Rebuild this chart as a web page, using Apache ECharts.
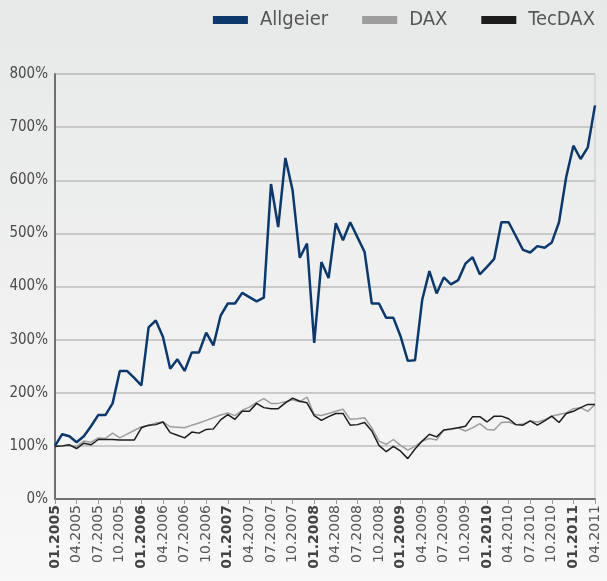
<!DOCTYPE html>
<html>
<head>
<meta charset="utf-8">
<script src="https://cdn.jsdelivr.net/npm/echarts@6/dist/echarts.min.js"></script>
<style>
	html, body { margin: 0; padding: 0; }
	#chart { width: 607px; height: 581px; }
</style>
</head>
<body>
<div id="chart"></div>
<script>
	// monthly values, 01.2005 .. 04.2011 (indexed, 01.2005 = 100%)
	var years = [2005, 2006, 2007, 2008, 2009, 2010, 2011];
	var allgeier = [
		100, 122, 118, 107, 118, 137, 158, 158, 180, 241, 241, 228,
		214, 323, 336, 305, 245, 263, 241, 276, 276, 313, 289, 345,
		368, 368, 388, 380, 372, 379, 593, 512, 642, 581, 454, 481,
		294, 446, 416, 519, 487, 521, 493, 465, 368, 368, 341, 341,
		306, 260, 261, 375, 429, 387, 417, 404, 412, 443, 455, 423,
		437, 452, 521, 521, 495, 469, 464, 476, 473, 483, 521, 606,
		665, 640, 662, 741
	];
	var dax = [
		100, 100, 101, 99, 109, 107, 115, 114, 124, 115, 122, 129,
		136, 138, 143, 145, 136, 135, 134, 139, 143, 148, 153, 158,
		162, 157, 167, 173, 182, 189, 180, 180, 183, 187, 183, 192,
		159, 157, 161, 165, 169, 150, 151, 153, 134, 109, 103, 112,
		101, 92, 99, 109, 114, 111, 130, 131, 134, 128, 134, 142,
		131, 130, 144, 145, 140, 141, 147, 145, 149, 156, 159, 162,
		170, 172, 165, 178
	];
	var tecdax = [
		99, 100, 102, 95, 105, 102, 112, 112, 112, 111, 111, 111,
		134, 139, 140, 145, 125, 120, 115, 126, 124, 131, 132, 149,
		159, 150, 165, 165, 180, 172, 170, 170, 181, 190, 184, 181,
		157, 148, 155, 161, 161, 139, 140, 144, 128, 101, 89, 99,
		90, 76, 94, 109, 122, 117, 130, 132, 134, 137, 155, 155,
		145, 156, 156, 151, 140, 139, 147, 139, 147, 156, 144, 161,
		165, 172, 178, 178
	];

	var months = [];
	for (var y = 0; y < years.length; y++) {
		for (var m = 1; m <= 12; m++) {
			if (months.length < allgeier.length) {
				months.push((m < 10 ? '0' + m : '' + m) + '.' + years[y]);
			}
		}
	}

	var chart = echarts.init(document.getElementById('chart'));
	var option = {
		backgroundColor: {
			type: 'linear', x: 0, y: 0, x2: 0, y2: 1,
			colorStops: [
				{ offset: 0, color: '#e7e8e8' },
				{ offset: 1, color: '#f8f8f8' }
			]
		},
		animation: false,
		textStyle: { fontFamily: 'DejaVu Sans' },
		legend: {
			top: 5,
			right: 7,
			itemWidth: 35,
			itemHeight: 8,
			itemGap: 34,
			icon: 'rect',
			textStyle: {
				color: '#555',
				fontSize: 20,
				fontFamily: 'DejaVu Sans Condensed',
				padding: [0, 0, 0, 7]
			},
			data: ['Allgeier', 'DAX', 'TecDAX']
		},
		grid: {
			left: 55,
			right: 12,
			top: 74,
			bottom: 82,
			show: true,
			borderColor: '#c8c8c8',
			borderWidth: 1
		},
		xAxis: {
			type: 'category',
			data: months,
			boundaryGap: false,
			axisLine: { lineStyle: { color: '#707070', width: 2 } },
			axisTick: { interval: 2, length: 5, lineStyle: { color: '#999' } },
			axisLabel: {
				interval: 2,
				rotate: 90,
				margin: 6,
				color: '#555',
				fontSize: 14,
				formatter: function (val) {
					if (val.indexOf('01.') === 0) {
						return '{b|' + val + '}';
					}
					return val;
				},
				rich: {
					b: { fontWeight: 'bold', fontSize: 14, color: '#444' }
				}
			},
			splitLine: { show: false }
		},
		yAxis: {
			type: 'value',
			min: 0,
			max: 800,
			interval: 100,
			axisLine: { show: true, lineStyle: { color: '#707070', width: 2 } },
			axisTick: { show: false },
			axisLabel: {
				formatter: '{value}%',
				color: '#4a4a4a',
				fontSize: 15,
				fontFamily: 'DejaVu Sans Condensed',
				margin: 7
			},
			splitLine: { lineStyle: { color: '#bcbcbc', width: 1.5 } }
		},
		series: [
			{
				name: 'Allgeier',
				type: 'line',
				data: allgeier,
				showSymbol: false,
				z: 4,
				itemStyle: { color: '#0c386b' },
				lineStyle: { color: '#0c386b', width: 2.5 }
			},
			{
				name: 'DAX',
				type: 'line',
				data: dax,
				showSymbol: false,
				z: 2,
				itemStyle: { color: '#9d9d9d' },
				lineStyle: { color: '#9d9d9d', width: 1.5 }
			},
			{
				name: 'TecDAX',
				type: 'line',
				data: tecdax,
				showSymbol: false,
				z: 3,
				itemStyle: { color: '#1c1c1c' },
				lineStyle: { color: '#1c1c1c', width: 1.5 }
			}
		]
	};
	chart.setOption(option);
</script>
</body>
</html>
